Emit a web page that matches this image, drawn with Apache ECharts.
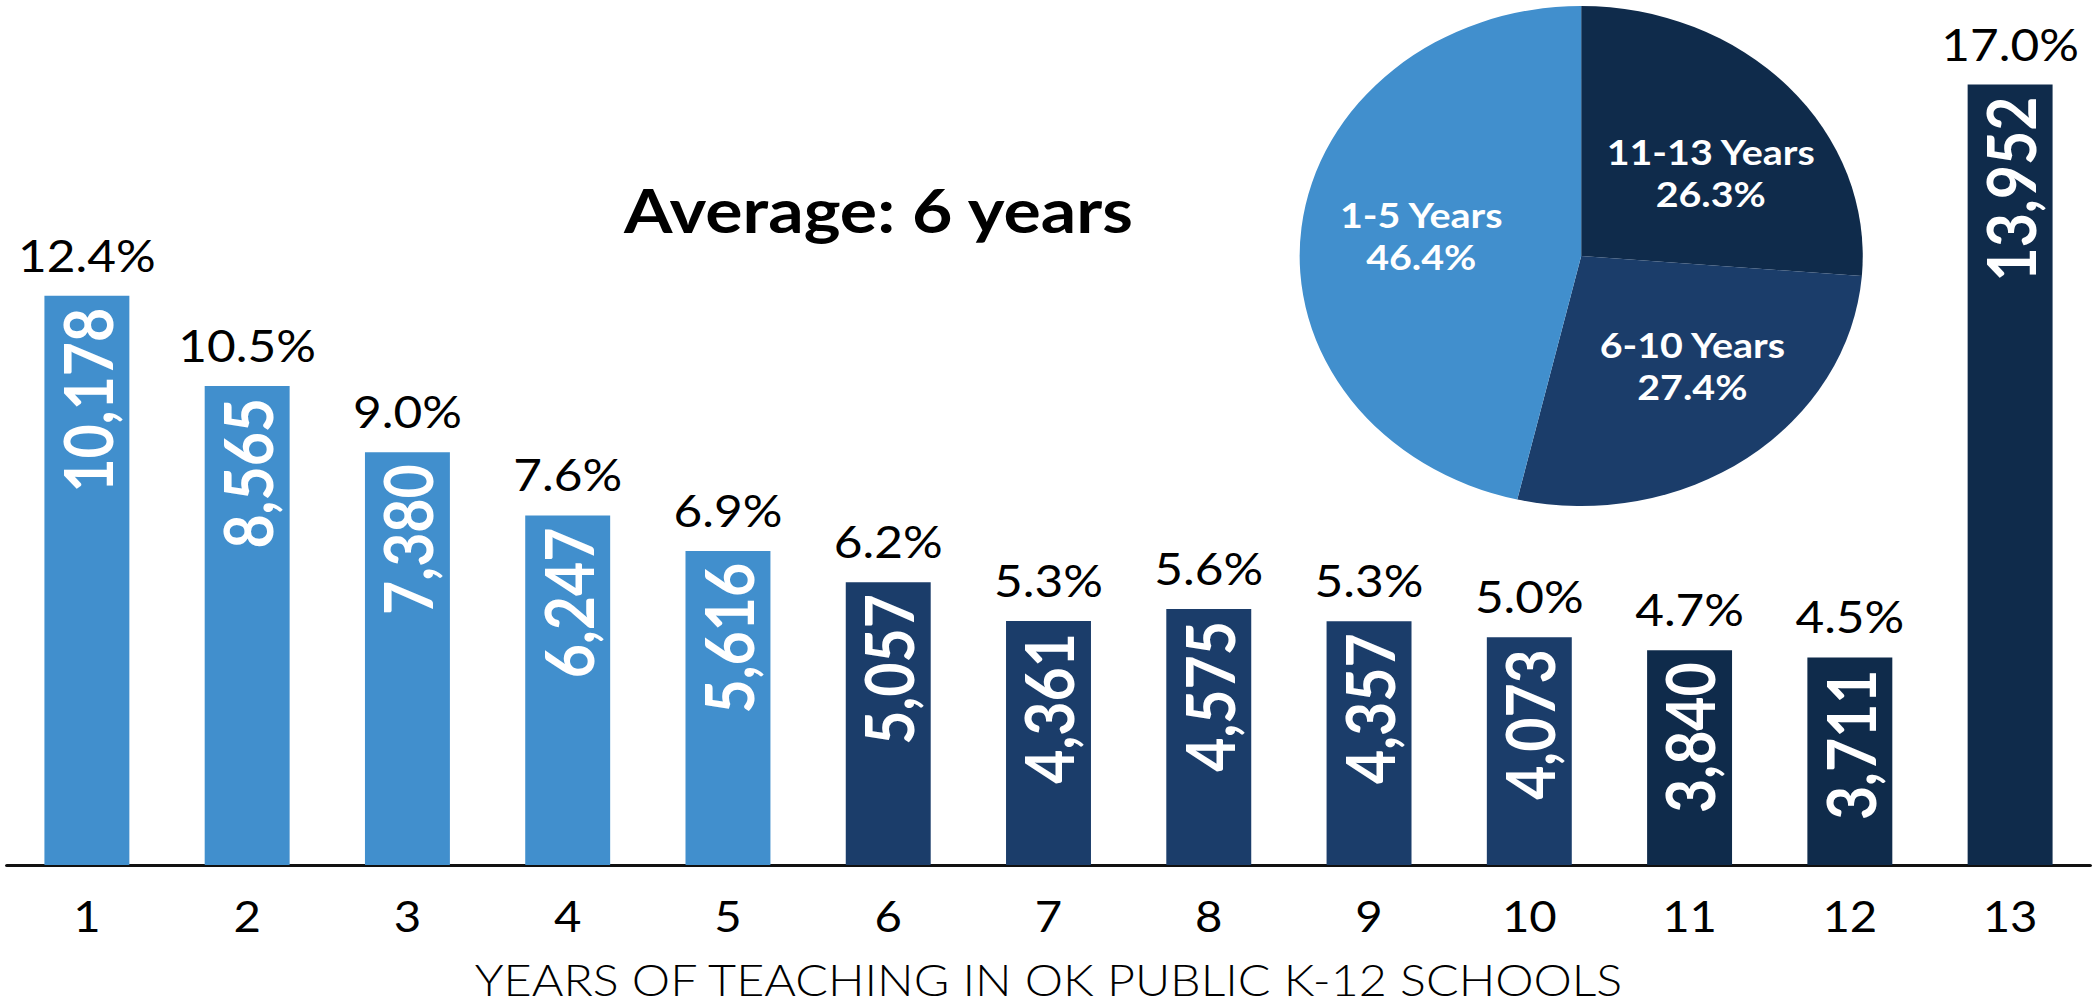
<!DOCTYPE html>
<html>
<head>
<meta charset="utf-8">
<script src="https://cdn.jsdelivr.net/npm/echarts@6/dist/echarts.min.js"></script>
<style>
  html, body { margin: 0; padding: 0; background: #fff; overflow: hidden; }
  #app { width: 1862px; height: 1006px; transform: scaleX(1.12621); transform-origin: 0 0; }
</style>
</head>
<body>
<div id="app"></div>
<script>
// years of teaching in OK public K-12 schools
const years = ["1", "2", "3", "4", "5", "6", "7", "8", "9", "10", "11", "12", "13"];
const teachers = [10178, 8565, 7380, 6247, 5616, 5057, 4361, 4575, 4357, 4073, 3840, 3711, 13952];
const shares = [12.4, 10.5, 9.0, 7.6, 6.9, 6.2, 5.3, 5.6, 5.3, 5.0, 4.7, 4.5, 17.0];

// pie groups, clockwise from the top
const groupNames = ["11-13 Years", "6-10 Years", "1-5 Years"];
const groupShares = [26.3, 27.4, 46.4];

const LIGHT = "#418fcd";
const MID = "#1b3d6a";
const DARK = "#0f2b4b";

function colorOf(i) {
  if (i < 5) return LIGHT;
  if (i < 10) return MID;
  return DARK;
}
const groupColors = [DARK, MID, LIGHT];
// small nudges for the slice labels
const pieLabelShift = [[7, 16], [12, -9], [4, -4]];

const font = "Lato";
const myChart = echarts.init(document.getElementById("app"), null, { renderer: "svg" });

let option = {
  animation: false,
  textStyle: { fontFamily: font },
  grid: { left: 6, right: 6, top: 26, bottom: 134 },
  xAxis: {
    type: "category",
    data: years,
    axisTick: { show: false },
    axisLine: { lineStyle: { color: "#111", width: 3 } },
    axisLabel: { color: "#000", fontSize: 42, fontFamily: font, margin: 30 },
    name: "YEARS OF TEACHING IN OK PUBLIC K-12 SCHOOLS",
    nameLocation: "middle",
    nameGap: 93,
    nameTextStyle: { color: "#000", fontSize: 43, fontWeight: 300, fontFamily: font },
  },
  yAxis: {
    type: "value",
    min: 0,
    max: 15000,
    show: false,
    splitLine: { show: false },
  },
  series: [
    {
      type: "bar",
      barWidth: "53%",
      data: teachers.map((v, i) => ({ value: v, itemStyle: { color: colorOf(i) } })),
      label: {
        show: true,
        position: "insideTop",
        rotate: 90,
        align: "right",
        verticalAlign: "middle",
        distance: 12,
        color: "#fff",
        fontSize: 59,
        fontWeight: "bold",
        fontFamily: font,
        formatter: (p) => p.value.toLocaleString("en-US"),
      },
    },
    {
      // transparent copy, only carries the share labels on top
      type: "bar",
      barWidth: "53%",
      barGap: "-100%",
      silent: true,
      data: teachers,
      itemStyle: { color: "transparent" },
      label: {
        show: true,
        position: "top",
        distance: 19,
        color: "#000",
        fontSize: 44,
        fontFamily: font,
        formatter: (p) => shares[p.dataIndex].toFixed(1) + "%",
      },
    },
    {
      type: "pie",
      center: [1404, 256],
      radius: 250,
      startAngle: 90,
      clockwise: true,
      silent: true,
      data: groupNames.map((n, i) => ({ name: n, value: groupShares[i], itemStyle: { color: groupColors[i] } })),
      label: { show: false },
      labelLine: { show: false },
      emphasis: { disabled: true },
    },
    {
      // same slices, invisible, wider radius so the inside labels sit further out
      type: "pie",
      center: [1404, 256],
      radius: 288,
      startAngle: 90,
      clockwise: true,
      silent: true,
      data: groupNames.map((n, i) => ({ name: n, value: groupShares[i] })),
      itemStyle: { color: "transparent" },
      label: {
        show: true,
        position: "inside",
        color: "#fff",
        fontSize: 35,
        fontWeight: "bold",
        fontFamily: font,
        lineHeight: 42,
        formatter: (p) => p.name + "\n" + p.value.toFixed(1) + "%",
      },
      labelLayout: (p) => ({ dx: pieLabelShift[p.dataIndex][0], dy: pieLabelShift[p.dataIndex][1] }),
      labelLine: { show: false },
      emphasis: { disabled: true },
    },
  ],
  graphic: [
    {
      type: "text",
      x: 780,
      y: 209,
      style: {
        text: "Average: 6 years",
        fill: "#000",
        font: "bold 62px " + font,
        textAlign: "center",
        textVerticalAlign: "middle",
      },
    },
  ],
};
myChart.setOption(option);
</script>
</body>
</html>
